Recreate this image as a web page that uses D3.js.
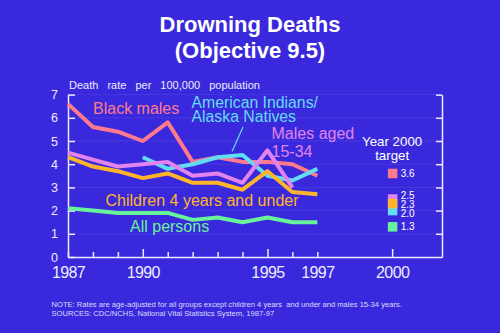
<!DOCTYPE html>
<html>
<head>
<meta charset="utf-8">
<script src="https://cdn.jsdelivr.net/npm/d3@7"></script>
<style>
  html, body { margin: 0; padding: 0; background: #3a29dc; }
  svg { display: block; }
  text { font-family: "Liberation Sans", Arial, Helvetica, sans-serif; }
</style>
</head>
<body>
<script>
// ---- Data ----
const years = [1987, 1988, 1989, 1990, 1991, 1992, 1993, 1994, 1995, 1996, 1997];
const blackMales = [6.6, 5.6, 5.4, 5.0, 5.8, 4.1, 4.3, 4.1, 4.1, 4.0, 3.5];
const aianYears = [1990, 1991, 1992, 1993, 1994, 1995, 1996, 1997];
const aian = [4.3, 3.8, 4.0, 4.3, 4.4, 3.5, 3.3, 3.8];
const malesYears = [1987, 1988, 1989, 1990, 1991, 1992, 1993, 1994, 1995, 1996];
const males1534 = [4.5, 4.2, 3.9, 4.0, 4.1, 3.5, 3.6, 3.2, 4.6, 3.0];
const children = [4.3, 3.9, 3.7, 3.4, 3.6, 3.2, 3.2, 2.9, 3.7, 2.8, 2.7];
const allPersons = [2.1, 2.0, 1.9, 1.9, 1.9, 1.6, 1.7, 1.5, 1.7, 1.5, 1.5];

const targetNames = ["Black males", "Males aged 15-34", "American Indians/Alaska Natives", "Children 4 years and under", "All persons"];
const targetValues = [3.6, 2.5, 2.0, 2.3, 1.3];

const yTicks = [0, 1, 2, 3, 4, 5, 6, 7];
const xTickYears = [1987, 1988, 1989, 1990, 1991, 1992, 1993, 1994, 1995, 1996, 1997, 2000];
const xLabelYears = [1987, 1990, 1995, 1997, 2000];
const xMajorYears = [1990, 1995, 2000];

const colors = {
  "Black males": "#ff7a8c",
  "American Indians/Alaska Natives": "#62dcf2",
  "Males aged 15-34": "#e184ee",
  "Children 4 years and under": "#ffb52a",
  "All persons": "#68f29a"
};

const series = [
  { name: "Black males", xs: years, ys: blackMales },
  { name: "American Indians/Alaska Natives", xs: aianYears, ys: aian },
  { name: "Males aged 15-34", xs: malesYears, ys: males1534 },
  { name: "Children 4 years and under", xs: years, ys: children },
  { name: "All persons", xs: years, ys: allPersons }
];

// ---- Layout ----
const W = 500, H = 333;
const svg = d3.select("body").append("svg").attr("width", W).attr("height", H);
svg.append("rect").attr("width", W).attr("height", H).attr("fill", "#3a29dc");

const x = d3.scaleLinear().domain([1987, 2002]).range([68, 442]);
const y = d3.scaleLinear().domain([0, 7]).range([257, 94.6]);
const axisColor = "#ececff";

// Title
svg.append("text").attr("x", 250).attr("y", 32).attr("text-anchor", "middle")
  .attr("font-size", 22).attr("font-weight", "bold").attr("fill", "#fff").text("Drowning Deaths");
svg.append("text").attr("x", 250).attr("y", 57.5).attr("text-anchor", "middle")
  .attr("font-size", 22).attr("font-weight", "bold").attr("fill", "#fff").text("(Objective 9.5)");

// Axis title
svg.append("text").attr("x", 69).attr("y", 88.5).attr("font-size", 11)
  .attr("fill", axisColor).attr("word-spacing", 6).text("Death rate per 100,000 population");

// faint gridlines
svg.append("g").selectAll("line").data(yTicks.filter(d => d > 0)).join("line")
  .attr("x1", x(1987)).attr("x2", x(2002))
  .attr("y1", d => y(d)).attr("y2", d => y(d))
  .attr("stroke", "#ffffff").attr("stroke-opacity", 0.07).attr("stroke-width", 1);

// Left axis
const gL = svg.append("g").attr("transform", `translate(${x(1987)},0)`)
  .call(d3.axisLeft(y).tickValues(yTicks).tickFormat(d3.format("d"))
    .tickSizeInner(-7).tickSizeOuter(0).tickPadding(10));
gL.select(".domain").attr("stroke", axisColor).attr("stroke-width", 1.5);
gL.selectAll(".tick line").attr("stroke", axisColor).attr("stroke-width", 1.5);
gL.selectAll(".tick text").attr("fill", axisColor).attr("font-size", 12.5)
  .attr("font-family", "Liberation Sans, Arial, sans-serif");

// Right axis
const gR = svg.append("g").attr("transform", `translate(${x(2002)},0)`)
  .call(d3.axisLeft(y).tickValues(yTicks.filter(d => d > 0)).tickSizeInner(6).tickSizeOuter(0).tickFormat(""));
gR.select(".domain").attr("stroke", axisColor).attr("stroke-width", 1.5);
gR.selectAll(".tick line").attr("stroke", axisColor).attr("stroke-width", 1.5);

// Bottom axis
const gB = svg.append("g").attr("transform", `translate(0,${y(0)})`)
  .call(d3.axisBottom(x).tickValues(xTickYears).tickSizeOuter(0)
    .tickFormat(d => xLabelYears.includes(d) ? String(d) : ""));
gB.select(".domain").attr("stroke", axisColor).attr("stroke-width", 1.5);
gB.selectAll(".tick line").attr("stroke", axisColor).attr("stroke-width", 1.5)
  .attr("y2", d => xMajorYears.includes(d) ? -8 : -5);
gB.selectAll(".tick text").attr("fill", axisColor).attr("font-size", 16)
  .attr("letter-spacing", -0.6).attr("y", 10)
  .attr("font-family", "Liberation Sans, Arial, sans-serif");

// Lines
const line = d3.line().x(d => x(d[0])).y(d => y(d[1])).curve(d3.curveLinear);
svg.append("g").selectAll("path").data(series).join("path")
  .attr("d", s => line(s.xs.map((v, i) => [v, s.ys[i]])))
  .attr("fill", "none").attr("stroke", s => colors[s.name])
  .attr("stroke-width", 4).attr("stroke-linejoin", "round").attr("stroke-linecap", "butt");

// Series labels
function label(lines, x0, y0, dy, color, fs) {
  const t = svg.append("text").attr("font-size", fs || 16).attr("fill", color);
  lines.forEach((l, i) => t.append("tspan").attr("x", x0).attr("y", y0 + i * dy).text(l));
}
label(["Black males"], 93, 114, 0, colors["Black males"]);
label(["American Indians/"], 191.5, 108.3, 0, colors["American Indians/Alaska Natives"], 15.8);
label(["Alaska Natives"], 191.5, 122.3, 0, colors["American Indians/Alaska Natives"], 15.8);
label(["Males aged"], 271.5, 138.5, 0, colors["Males aged 15-34"]);
label(["15-34"], 271.5, 156.8, 0, colors["Males aged 15-34"]);
label(["Children 4 years and under"], 105.5, 206, 0, colors["Children 4 years and under"]);
label(["All persons"], 130, 232.3, 0, colors["All persons"]);

// leader line for AIAN
svg.append("line")
  .attr("x1", x(1994.02)).attr("y1", y(5.6))
  .attr("x2", x(1993.58)).attr("y2", y(4.55))
  .attr("stroke", colors["American Indians/Alaska Natives"]).attr("stroke-width", 1.2);

// Target legend
svg.append("text").attr("x", x(2000)).attr("y", 145.7).attr("text-anchor", "middle")
  .attr("font-size", 13.3).attr("fill", "#fff").text("Year 2000");
svg.append("text").attr("x", x(2000)).attr("y", 159.5).attr("text-anchor", "middle")
  .attr("font-size", 13.3).attr("fill", "#fff").text("target");

const sq = 9.5;
const targets = targetNames.map((n, i) => ({ name: n, v: targetValues[i] }));
svg.append("g").selectAll("rect").data(targets).join("rect")
  .attr("x", x(2000) - sq / 2 + 0.5).attr("y", d => y(d.v) - sq / 2)
  .attr("width", sq).attr("height", sq).attr("fill", d => colors[d.name]);

// value labels with simple cluster spreading
const sorted = targets.slice().sort((a, b) => b.v - a.v).map(d => ({ v: d.v, c: y(d.v) }));
const gap = 9.4;
const clusters = [];
sorted.forEach(d => {
  const last = clusters[clusters.length - 1];
  if (last && d.c - last[last.length - 1].c < gap) last.push(d); else clusters.push([d]);
});
clusters.forEach(cl => {
  const mean = d3.mean(cl, d => d.c);
  cl.forEach((d, i) => { d.ly = mean + (i - (cl.length - 1) / 2) * gap; });
});
svg.append("g").selectAll("text").data(sorted).join("text")
  .attr("x", x(2000) + 8.5).attr("y", d => d.ly + 3.6)
  .attr("font-size", 10).attr("fill", "#fff").text(d => d3.format(".1f")(d.v));

// Footnotes
svg.append("text").attr("x", 51.5).attr("y", 306.5).attr("font-size", 7.6).attr("fill", "#dcdcff")
  .text("NOTE: Rates are age-adjusted for all groups except children 4 years\u00a0 and under and males 15-34 years.");
svg.append("text").attr("x", 51.5).attr("y", 315.8).attr("font-size", 7.6).attr("fill", "#dcdcff")
  .text("SOURCES: CDC/NCHS, National Vital Statistics System, 1987-97");
</script>
</body>
</html>
